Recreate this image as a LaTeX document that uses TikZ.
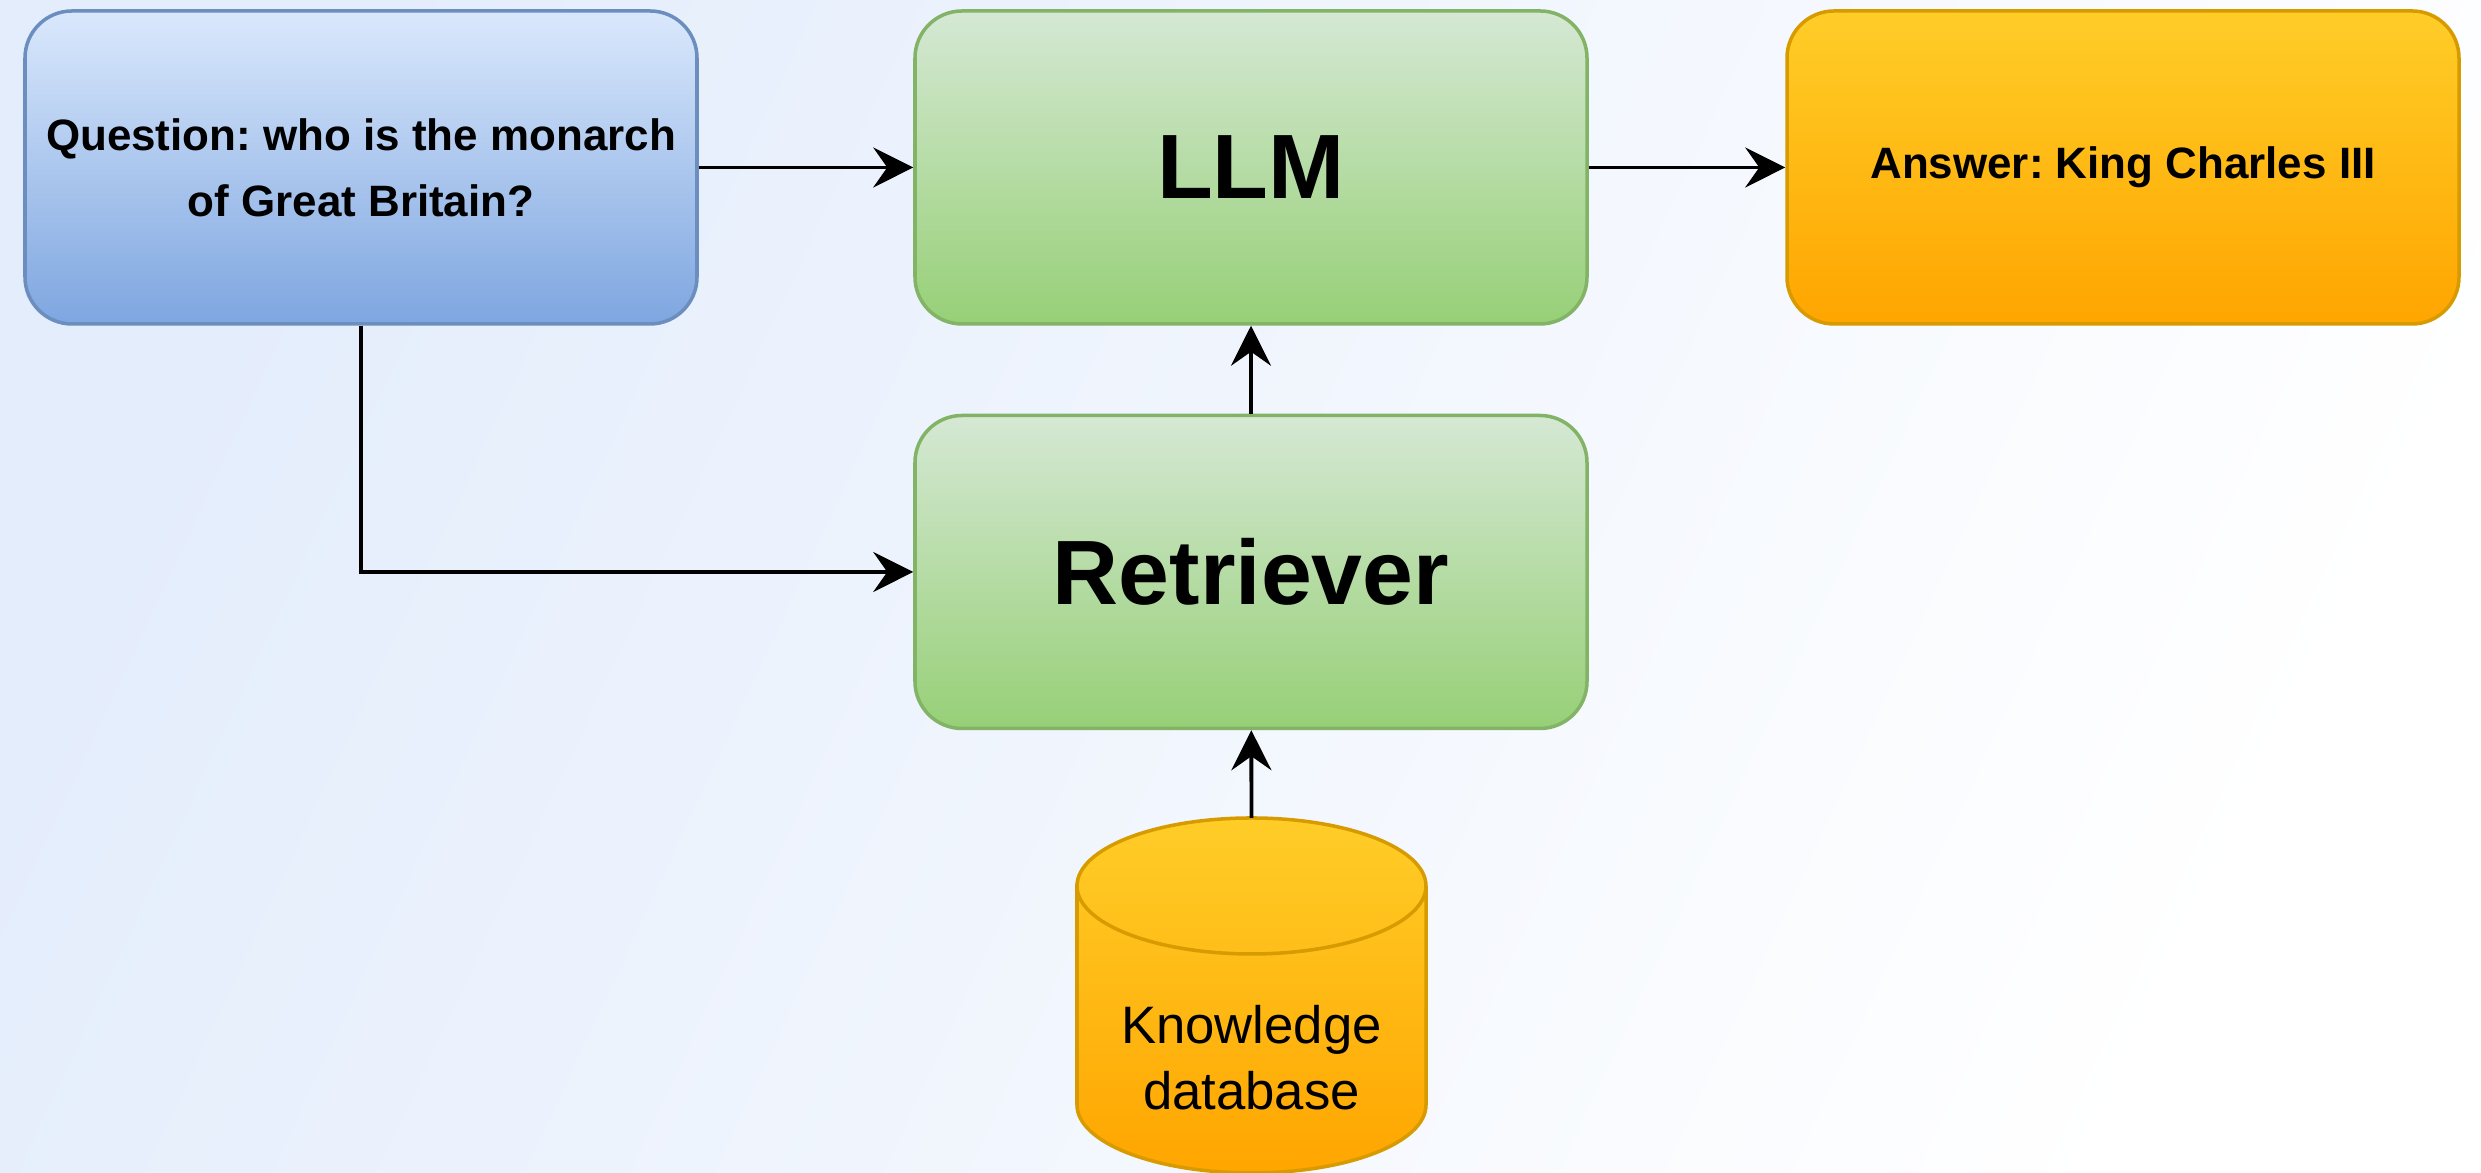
\documentclass[tikz,border=0pt]{standalone}
\usepackage{fontspec}
\setmainfont{Liberation Sans}
\frenchspacing
\usetikzlibrary{arrows.meta}
\definecolor{bgblue}{HTML}{E4EDFC}
\definecolor{qtop}{HTML}{DAE8FC}
\definecolor{qbot}{HTML}{7EA6E0}
\definecolor{qline}{HTML}{6C8EBF}
\definecolor{gtop}{HTML}{D5E8D4}
\definecolor{gbot}{HTML}{97D077}
\definecolor{gline}{HTML}{82B366}
\definecolor{otop}{HTML}{FFCD28}
\definecolor{obot}{HTML}{FFA500}
\definecolor{oline}{HTML}{D79B00}

\begin{document}
\begin{tikzpicture}[>={Stealth[length=4mm,width=4mm,inset=1.4mm,fill=black]},
  box/.style={rounded corners=4.7mm,line width=1pt,minimum width=6.72cm,minimum height=3.13cm,align=center,inner sep=0pt},
  qbox/.style={box,draw=qline,top color=qtop,bottom color=qbot},
  gbox/.style={box,draw=gline,top color=gtop,bottom color=gbot},
  obox/.style={box,draw=oline,top color=otop,bottom color=obot},
  small/.style={font=\bfseries\fontsize{12.5}{18.8}\selectfont},
  big/.style={font=\bfseries\fontsize{26}{31}\selectfont},
  flow/.style={->,line width=1.1pt,black}]
\useasboundingbox (0,0) rectangle (24.81,11.73);
\shade[top color=bgblue,bottom color=white,shading angle=65] (0,0) rectangle (24.81,11.73);

\node[qbox,small] (q) at (3.61,10.055) {Question: who is the monarch\\of Great Britain?};
\node[gbox,big] (llm) at (12.51,10.055) {LLM};
\node[obox,small] (ans) at (21.23,10.055) {Answer: King Charles III};
\node[gbox,big] (ret) at (12.51,6.01) {Retriever};

% knowledge database
\path[draw=oline,line width=1pt,top color=otop,bottom color=obot] (10.77,2.87) -- (10.77,0.68)
  arc (180:360:1.745 and 0.68) -- (14.26,2.87) arc (0:180:1.745 and 0.68) -- cycle;
\draw[oline,line width=1pt] (10.77,2.87) arc (180:360:1.745 and 0.68);
\coordinate (dbtop) at (12.515,3.55);
\node[font=\fontsize{15}{18.8}\selectfont,align=center] (db) at (12.515,1.15) {Knowledge\\database};

\draw[flow] (q) -- (llm);
\draw[flow] (llm) -- (ans);
\draw[flow] (ret) -- (llm);
\draw[flow] (dbtop) -- (ret);
\draw[flow] (q.south) |- (ret.west);
\end{tikzpicture}
\end{document}
